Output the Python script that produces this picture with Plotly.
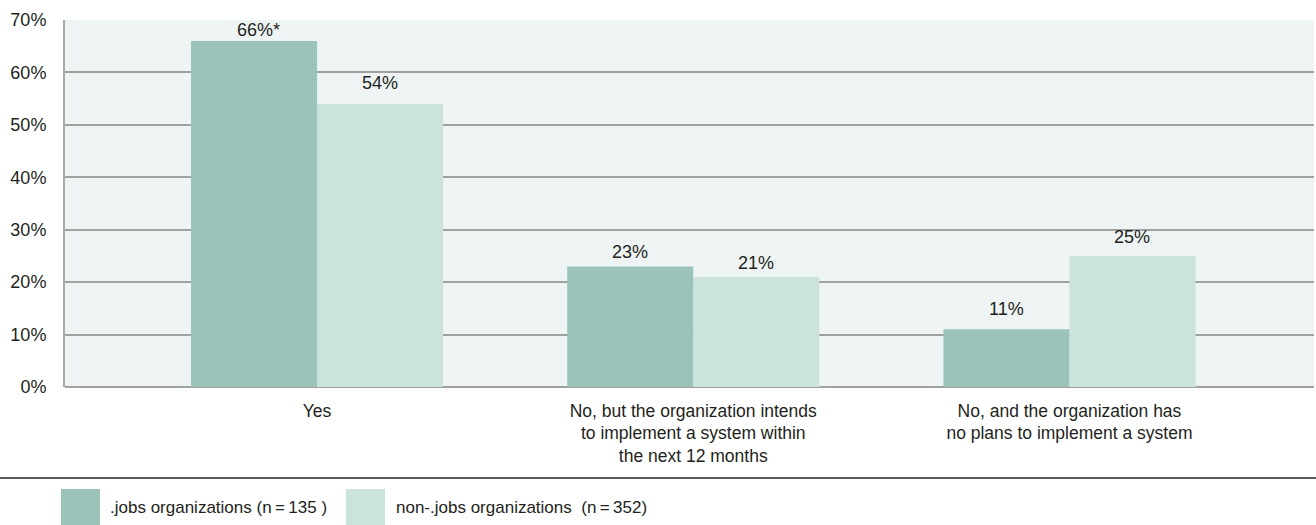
import plotly.graph_objects as go

# Survey responses: share of organizations with a system in place
categories = [
    "Yes",
    "No, but the organization intends<br>to implement a system within<br>the next 12 months",
    "No, and the organization has<br>no plans to implement a system",
]
jobs_values = [66, 23, 11]
non_jobs_values = [54, 21, 25]
jobs_notes = ["*", "", ""]
series_names = [".jobs organizations (n\u2009=\u2009135 )", "non-.jobs organizations  (n\u2009=\u2009352)"]
y_ticks = [0, 10, 20, 30, 40, 50, 60, 70]

DARK = "#9bc3b9"
LIGHT = "#cce2dd"
TEXT = "#231f20"
FONT = "Liberation Sans, Arial, Helvetica, sans-serif"

W, H = 1316, 525
ML, MR, MT, MB = 65, 2, 20, 138
PW, PH = W - ML - MR, H - MT - MB
HALF_BAR = 63  # half of one bar's width in pixels

# vertical lift of each value label above its bar top (px)
jobs_lift = [11, 14, 20]
non_jobs_lift = [21, 14, 19]


def px_x(p):
    return (p - ML) / PW


def px_y(p):
    return (H - MB - p) / PH


fig = go.Figure()
fig.add_trace(go.Bar(
    x=categories, y=jobs_values, name=series_names[0],
    marker=dict(color=DARK, line=dict(width=0)), showlegend=False,
))
fig.add_trace(go.Bar(
    x=categories, y=non_jobs_values, name=series_names[1],
    marker=dict(color=LIGHT, line=dict(width=0)), showlegend=False,
))

annotations = []
for cat, v, note, lift in zip(categories, jobs_values, jobs_notes, jobs_lift):
    annotations.append(dict(x=cat, y=v, xref="x", yref="y", text=f"{v}%{note}",
                            xshift=-HALF_BAR + (4 if note else 0), yshift=lift,
                            showarrow=False, yanchor="middle",
                            font=dict(size=18, color=TEXT, family=FONT)))
for cat, v, lift in zip(categories, non_jobs_values, non_jobs_lift):
    annotations.append(dict(x=cat, y=v, xref="x", yref="y", text=f"{v}%",
                            xshift=HALF_BAR, yshift=lift,
                            showarrow=False, yanchor="middle",
                            font=dict(size=18, color=TEXT, family=FONT)))

shapes = [
    # rule above the key
    dict(type="line", xref="paper", yref="paper",
         x0=px_x(0), x1=px_x(W), y0=px_y(478), y1=px_y(478),
         line=dict(color="#5a5a5a", width=2)),
]
key_items = [(61, 100, 108, DARK), (346, 385, 394, LIGHT)]
for (sx0, sx1, tx, col), name in zip(key_items, series_names):
    shapes.append(dict(type="rect", xref="paper", yref="paper",
                       x0=px_x(sx0), x1=px_x(sx1), y0=px_y(525), y1=px_y(489),
                       fillcolor=col, line=dict(width=0)))
    annotations.append(dict(xref="paper", yref="paper", x=px_x(tx), y=px_y(507),
                            xanchor="left", yanchor="middle", showarrow=False,
                            text=name, font=dict(size=17, color=TEXT, family=FONT)))

fig.update_layout(
    width=W, height=H, autosize=False,
    margin=dict(l=ML, r=MR, t=MT, b=MB, pad=0),
    paper_bgcolor="white", plot_bgcolor="#eef4f4",
    barmode="group", bargap=0.33, bargroupgap=0,
    font=dict(family=FONT, size=17, color=TEXT),
    shapes=shapes, annotations=annotations,
    xaxis=dict(type="category", range=[-0.67, 2.65], showgrid=False,
               showline=False, ticks="", tickfont=dict(size=17.5, color=TEXT),
               ticklabelstandoff=11, fixedrange=True),
    yaxis=dict(range=[0, 70], tickvals=y_ticks, ticktext=[f"{v}%" for v in y_ticks],
               showgrid=True, gridcolor="#a0a0a0", gridwidth=2,
               showline=True, linecolor="#a8a8a8", linewidth=2,
               zeroline=True, zerolinecolor="#a0a0a0", zerolinewidth=2,
               ticks="", tickfont=dict(size=18, color=TEXT),
               ticklabelstandoff=13, fixedrange=True),
)

fig.write_html("out.html", config={"displayModeBar": False})
